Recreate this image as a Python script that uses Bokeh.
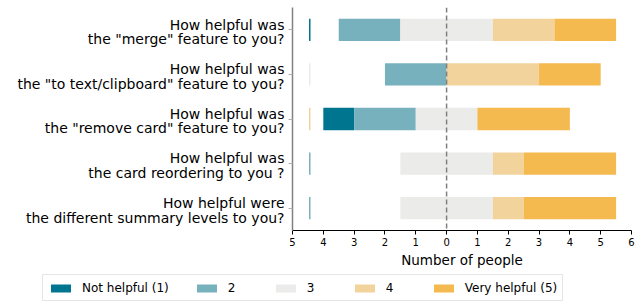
import numpy as np
from bokeh.plotting import figure
from bokeh.layouts import column
from bokeh.models import (FixedTicker, Span, Legend, LegendItem, ColumnDataSource,
                          Range1d, LinearAxis)
from bokeh.embed import file_html
from bokeh.resources import INLINE

# ---------------- data ----------------
question_line1 = [
    'How helpful was',
    'How helpful was',
    'How helpful was',
    'How helpful was',
    'How helpful were',
]
question_line2 = [
    'the "merge" feature to you?',
    'the "to text/clipboard" feature to you?',
    'the "remove card" feature to you?',
    'the card reordering to you ?',
    'the different summary levels to you?',
]
levels = ["Not helpful (1)", "2", "3", "4", "Very helpful (5)"]
not_helpful = [0, 0, 1, 0, 0]
helpful_2 = [2, 2, 2, 0, 0]
helpful_3 = [3, 0, 2, 3, 3]
helpful_4 = [2, 3, 0, 1, 1]
very_helpful = [2, 2, 3, 3, 3]
level_colors = ["#00758f", "#78b1be", "#ebebea", "#f2d39c", "#f4b94f"]
edge_mark_colors = ["#00758f", "#ebebea", "#f2d39c", "#78b1be", "#78b1be"]
x_ticks = [-5, -4, -3, -2, -1, 0, 1, 2, 3, 4, 5, 6]
x_tick_labels = ["5", "4", "3", "2", "1", "0", "1", "2", "3", "4", "5", "6"]

FONT = "DejaVu Sans"

counts = np.array([not_helpful, helpful_2, helpful_3, helpful_4, very_helpful], dtype=float)
n_q = len(question_line1)
ys = np.arange(n_q)[::-1].astype(float)  # first question on top
start = -(counts[0] + counts[1] + counts[2] / 2.0)

p = figure(width=643, height=270, output_backend="svg", toolbar_location=None,
           x_range=Range1d(-5, 6), y_range=Range1d(-0.5, 4.5),
           min_border_left=292, min_border_right=12, min_border_top=7, min_border_bottom=38)
p.outline_line_color = None
p.xgrid.visible = False
p.ygrid.visible = False

sources = []
left = start.copy()
for i in range(5):
    right = left + counts[i]
    src = ColumnDataSource(dict(y=ys, left=left, right=right))
    p.hbar(y="y", left="left", right="right", height=0.5, source=src,
           fill_color=level_colors[i], line_color=None)
    sources.append(src)
    left = right

# thin edge marks seen at the left of each row
edge_x = -4.44
p.segment(x0=[edge_x] * n_q, x1=[edge_x] * n_q, y0=ys - 0.25, y1=ys + 0.25,
          line_color=edge_mark_colors, line_width=1.5)

p.add_layout(Span(location=0, dimension="height", line_color="#808080",
                  line_dash="5 3", line_width=1.5))

# x axis
xa = p.xaxis[0]
xa.ticker = FixedTicker(ticks=x_ticks)
xa.major_label_overrides = {t: l for t, l in zip(x_ticks, x_tick_labels)}
xa.minor_tick_line_color = None
xa.major_tick_in = 0
xa.major_tick_out = 4
xa.axis_line_color = "black"
xa.major_tick_line_color = "black"
xa.major_label_text_font = FONT
xa.major_label_text_font_size = "10px"
xa.major_label_text_color = "black"
xa.major_label_standoff = 3
xa.axis_label = "Number of people"
xa.axis_label_text_font = FONT
xa.axis_label_text_font_size = "13.5px"
xa.axis_label_text_font_style = "normal"
xa.axis_label_text_color = "black"
xa.axis_label_standoff = 3

# y axis: spine + tick marks (no labels)
ya = p.yaxis[0]
ya.ticker = FixedTicker(ticks=list(ys))
ya.major_label_overrides = {float(y): "" for y in ys}
ya.minor_tick_line_color = None
ya.major_tick_in = 0
ya.major_tick_out = 4
ya.axis_line_color = "#808080"
ya.axis_line_width = 1.5
ya.major_tick_line_color = "#b0b0b0"
ya.major_label_standoff = 0
ya.major_label_text_font_size = "1px"

# second left axis carrying the two-line question labels
line1_pos = ys + 0.118
line2_pos = ys - 0.213
label_ticks = list(line1_pos) + list(line2_pos)
label_texts = question_line1 + question_line2
la = LinearAxis(ticker=FixedTicker(ticks=label_ticks),
                major_label_overrides={float(t): s for t, s in zip(label_ticks, label_texts)},
                axis_line_color=None, major_tick_line_color=None, minor_tick_line_color=None,
                major_tick_out=0, major_tick_in=0, major_label_standoff=4,
                major_label_text_font=FONT, major_label_text_font_size="14px",
                major_label_text_color="black")
p.add_layout(la, "left")

# legend in its own strip below (same data, drawn out of view)
lf = figure(width=643, height=32, output_backend="svg", toolbar_location=None,
            x_range=Range1d(-5, 6), y_range=Range1d(100, 132),
            x_axis_location=None, y_axis_location=None,
            min_border_left=0, min_border_right=0, min_border_top=0, min_border_bottom=0)
lf.outline_line_color = None
lf.xgrid.visible = False
lf.ygrid.visible = False
legend_renderers = []
for c, src in zip(level_colors, sources):
    legend_renderers.append(lf.hbar(y="y", left="left", right="right", height=0.5, source=src,
                                    fill_color=c, line_color=None))
legend = Legend(items=[LegendItem(label=lab, renderers=[r]) for lab, r in zip(levels, legend_renderers)],
                orientation="horizontal", location=(42, 1),
                glyph_width=25, glyph_height=10, label_standoff=9, spacing=25,
                padding=5, margin=0, label_height=15,
                label_text_font=FONT, label_text_font_size="12px", label_text_color="black",
                border_line_color="#cccccc", border_line_width=1,
                background_fill_color="white", background_fill_alpha=1.0)
lf.add_layout(legend, "center")

layout = column(p, column(lf, spacing=0), spacing=0)
open("out.html", "w").write(file_html(layout, INLINE))
